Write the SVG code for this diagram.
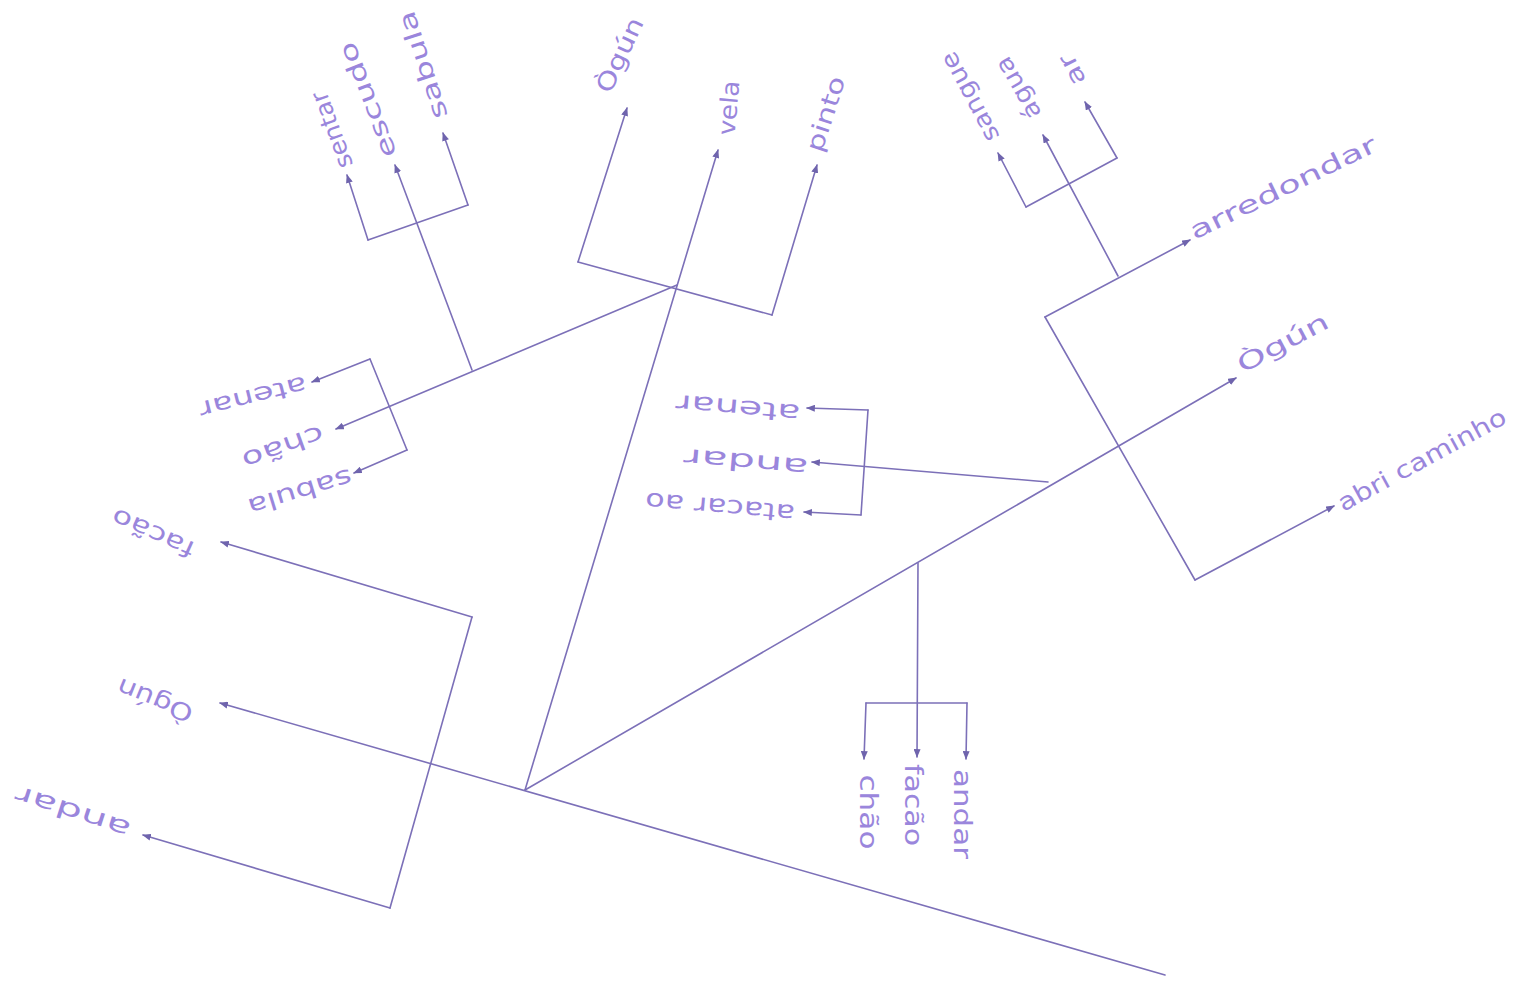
<svg xmlns="http://www.w3.org/2000/svg" width="1519" height="985" viewBox="0 0 1519 985">
<style>
.c{fill:none;stroke:#7c70b8;stroke-width:1.6;stroke-linecap:round;stroke-linejoin:round}
.a{marker-end:url(#ah)}
text{font-family:"DejaVu Sans","Liberation Sans",sans-serif;font-size:24px;fill:#9a86dc;text-anchor:middle;dominant-baseline:central}
</style>
<defs>
<marker id="ah" viewBox="0 0 10 8" refX="9" refY="4" markerWidth="9" markerHeight="7" markerUnits="userSpaceOnUse" orient="auto">
<path d="M0,0 L10,4 L0,8 z" fill="#6f64ad"/>
</marker>
</defs>
<rect width="1519" height="985" fill="#ffffff"/>
<g id="connectors">
<!-- main spine -->
<path class="c a" d="M1165,975 L220,703"/>
<path class="c a" d="M525,790 L718,150"/>
<path class="c a" d="M525,790 L1236,378"/>
<!-- left bracket -->
<path class="c a" d="M390,908 L143,835"/>
<path class="c" d="M390,908 L472,617"/>
<path class="c a" d="M472,617 L221,542"/>
<!-- top-left branch -->
<path class="c a" d="M677,285 L336,429"/>
<path class="c a" d="M472,370 L395,165"/>
<path class="c a" d="M368,240 L347,175"/>
<path class="c" d="M368,240 L468,205"/>
<path class="c a" d="M468,205 L443,133"/>
<path class="c a" d="M370,359 L312,382"/>
<path class="c" d="M370,359 L407,450"/>
<path class="c a" d="M407,450 L354,473"/>
<!-- top-middle bracket -->
<path class="c a" d="M578,262 L627,108"/>
<path class="c" d="M578,262 L772,315"/>
<path class="c a" d="M772,315 L817,165"/>
<!-- right side -->
<path class="c a" d="M1045,317 L1190,240"/>
<path class="c" d="M1045,317 L1195,580"/>
<path class="c a" d="M1195,580 L1334,506"/>
<path class="c a" d="M1118,276 L1043,135"/>
<path class="c a" d="M1026,207 L998,153"/>
<path class="c" d="M1026,207 L1117,158"/>
<path class="c a" d="M1117,158 L1085,102"/>
<!-- middle group -->
<path class="c a" d="M1048,482 L812,462"/>
<path class="c a" d="M868,410 L807,408"/>
<path class="c" d="M868,410 L861,515"/>
<path class="c a" d="M861,515 L804,512"/>
<!-- bottom group -->
<path class="c a" d="M918,563 L917,757"/>
<path class="c" d="M866,703 L967,703"/>
<path class="c a" d="M866,703 L864,759"/>
<path class="c a" d="M967,703 L966,759"/>
</g>
<g id="n-sentar"><text transform="translate(332,130) rotate(-110)" textLength="80" lengthAdjust="spacingAndGlyphs">sentar</text></g>
<g id="n-escudo"><text transform="translate(368,100) rotate(-111)" textLength="122" lengthAdjust="spacingAndGlyphs">escudo</text></g>
<g id="n-sabula-top"><text transform="translate(423,65) rotate(-108)" textLength="112" lengthAdjust="spacingAndGlyphs">sabula</text></g>
<g id="n-ogun-top"><text transform="translate(620,55) rotate(-65)" textLength="80" lengthAdjust="spacingAndGlyphs">Ògún</text></g>
<g id="n-vela"><text transform="translate(729,108) rotate(-85)" textLength="55" lengthAdjust="spacingAndGlyphs">vela</text></g>
<g id="n-pinto"><text transform="translate(826,114) rotate(-72)" textLength="78" lengthAdjust="spacingAndGlyphs">pinto</text></g>
<g id="n-sangue"><text transform="translate(970,97) rotate(-118)" textLength="98" lengthAdjust="spacingAndGlyphs">sangue</text></g>
<g id="n-agua"><text transform="translate(1018,88) rotate(-120)" textLength="68" lengthAdjust="spacingAndGlyphs">água</text></g>
<g id="n-ar"><text transform="translate(1072,70) rotate(-117)" textLength="32" lengthAdjust="spacingAndGlyphs">ar</text></g>
<g id="n-arredondar"><text transform="translate(1283,188) rotate(-26)" textLength="205" lengthAdjust="spacingAndGlyphs">arredondar</text></g>
<g id="n-ogun-right"><text transform="translate(1283,343) rotate(-28)" textLength="100" lengthAdjust="spacingAndGlyphs">Ògún</text></g>
<g id="n-abri-caminho"><text transform="translate(1422,460) rotate(-28.6)" textLength="188" lengthAdjust="spacingAndGlyphs">abri caminho</text></g>
<g id="n-atenar-left"><text transform="translate(253,397) rotate(166)" textLength="110" lengthAdjust="spacingAndGlyphs">atenar</text></g>
<g id="n-chao-left"><text transform="translate(283,447) rotate(160)" textLength="85" lengthAdjust="spacingAndGlyphs">chão</text></g>
<g id="n-sabula-left"><text transform="translate(300,492) rotate(163)" textLength="108" lengthAdjust="spacingAndGlyphs">sabula</text></g>
<g id="n-facao-left"><text transform="translate(153,533) rotate(204)" textLength="88" lengthAdjust="spacingAndGlyphs">facão</text></g>
<g id="n-ogun-left"><text transform="translate(155,700) rotate(202)" textLength="80" lengthAdjust="spacingAndGlyphs">Ògún</text></g>
<g id="n-andar-left"><text transform="translate(73,812) rotate(198)" textLength="120" lengthAdjust="spacingAndGlyphs">andar</text></g>
<g id="n-atenar-mid"><text transform="translate(738,408) rotate(185)" textLength="125" lengthAdjust="spacingAndGlyphs">atenar</text></g>
<g id="n-andar-mid"><text transform="translate(746,462) rotate(185)" textLength="125" lengthAdjust="spacingAndGlyphs">andar</text></g>
<g id="n-atacar-mid"><text transform="translate(720,507) rotate(185)" textLength="150" lengthAdjust="spacingAndGlyphs">atacar ao</text></g>
<g id="n-chao-bottom"><text transform="translate(868,812) rotate(90)" textLength="75" lengthAdjust="spacingAndGlyphs">chão</text></g>
<g id="n-facao-bottom"><text transform="translate(913,805) rotate(90)" textLength="82" lengthAdjust="spacingAndGlyphs">facão</text></g>
<g id="n-andar-bottom"><text transform="translate(962,814) rotate(90)" textLength="90" lengthAdjust="spacingAndGlyphs">andar</text></g>
</svg>
